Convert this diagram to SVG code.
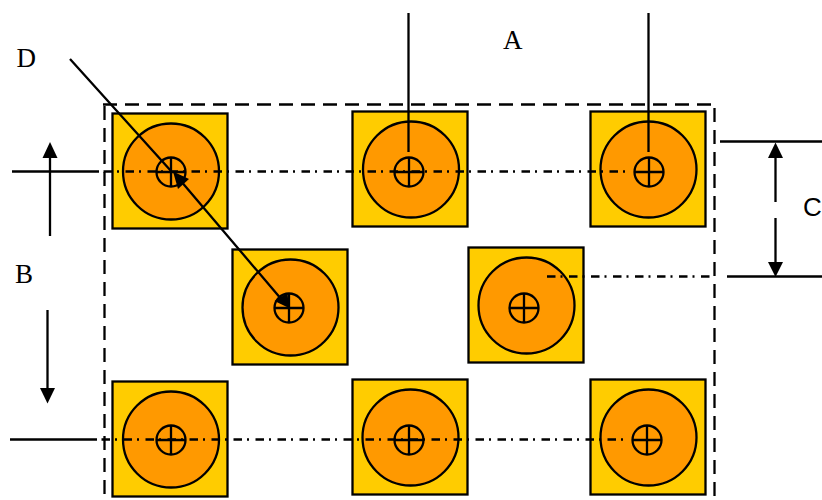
<svg xmlns="http://www.w3.org/2000/svg" width="822" height="500" viewBox="0 0 822 500">
<style>
.sq{fill:#FFCC00;stroke:#000;stroke-width:2.300}
.big{fill:#FF9900;stroke:#000;stroke-width:2.300}
.small{fill:none;stroke:#000;stroke-width:2.300}
.cross{stroke:#000;stroke-width:2.300;fill:none}
.l{stroke:#000;stroke-width:2.300;fill:none}
.dd{stroke:#000;stroke-width:2.300;fill:none;stroke-dasharray:8.500 5 2 6.500}
.frame{stroke:#000;stroke-width:2.300;fill:none;stroke-dasharray:14 8}
.ah{fill:#000;stroke:none}
text{font-family:"Liberation Serif","Times New Roman",serif;font-size:27px;fill:#000}
text.sans{font-family:"Liberation Sans",Arial,sans-serif;font-size:26px}
</style>
<defs>
<g id="hole"><circle class="small" r="14.5"/><path class="cross" d="M-14.5 0H14.5M0 -14.5V14.5"/></g>
</defs>
<g id="node1"><rect class="sq" x="112.500" y="113.500" width="115" height="115"/><circle class="big" cx="171" cy="171.500" r="48"/><use href="#hole" x="171" y="172"/></g>
<g id="node2"><rect class="sq" x="352.500" y="111.500" width="115" height="115"/><circle class="big" cx="411" cy="169.500" r="48"/><use href="#hole" x="409" y="172"/></g>
<g id="node3"><rect class="sq" x="590.500" y="111.500" width="115" height="115"/><circle class="big" cx="648.500" cy="169.500" r="48"/><use href="#hole" x="649" y="172"/></g>
<g id="node4"><rect class="sq" x="232.500" y="249.500" width="115" height="115"/><circle class="big" cx="290.500" cy="307.500" r="48"/><use href="#hole" x="289" y="308"/></g>
<g id="node5"><rect class="sq" x="468.500" y="247.500" width="115" height="115"/><circle class="big" cx="526.500" cy="305.500" r="48"/><use href="#hole" x="524" y="308"/></g>
<g id="node6"><rect class="sq" x="112.500" y="381.500" width="115" height="115"/><circle class="big" cx="171" cy="439.500" r="48"/><use href="#hole" x="171" y="440"/></g>
<g id="node7"><rect class="sq" x="352.500" y="379.500" width="115" height="115"/><circle class="big" cx="410.500" cy="437.500" r="48"/><use href="#hole" x="409" y="440"/></g>
<g id="node8"><rect class="sq" x="590.500" y="379.500" width="115" height="115"/><circle class="big" cx="648.500" cy="437.500" r="48"/><use href="#hole" x="647" y="440"/></g>
<g id="connectors">
<path class="frame" d="M103 104.500H712"/>
<path class="frame" d="M104.500 106V494"/>
<path class="frame" d="M714.500 108V498"/>
<path class="dd" d="M103.500 171.500H628"/>
<path class="dd" d="M101.500 439.500H625"/>
<path class="dd" d="M547 276.500H714"/>
<path class="l" d="M12 171.500H99M10 439.500H97M720 141.500H822M727 276.500H822"/>
<path class="l" d="M408.500 13V152M648.500 13V152"/>
<path class="l" d="M50 236V156M47.500 310V390M775.500 202V156M775.500 218V264"/>
<path class="l" d="M70 59L171 171M180 180L282 300"/>
<polygon class="ah" points="50,142 42.500,158 57.500,158"/>
<polygon class="ah" points="47.500,403.500 40,388 55,388"/>
<polygon class="ah" points="775.500,142.500 768,158 783,158"/>
<polygon class="ah" points="775.500,277 768,262 783,262"/>
<polygon class="ah" points="173,171.500 189,179 178,189"/>
<polygon class="ah" points="289,308 274.500,301 287.500,293"/>
</g>
<text x="16.500" y="67">D</text>
<text x="503" y="49">A</text>
<text x="15" y="283">B</text>
<text class="sans" x="803" y="216">C</text>
</svg>
